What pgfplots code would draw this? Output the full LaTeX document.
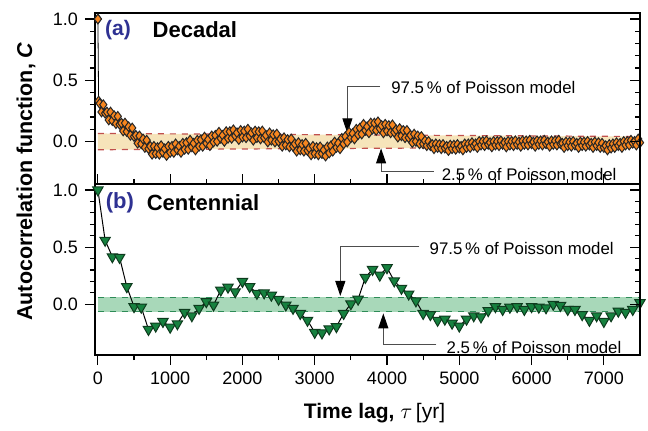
\documentclass[border=0pt]{standalone}
\usepackage{fontspec}
\setmainfont{Liberation Sans}
\usepackage{pgfplots}
\pgfplotsset{compat=1.18}
\usetikzlibrary{arrows.meta}

\definecolor{dorange}{HTML}{F7861F}
\definecolor{dband}{HTML}{F6E4BA}
\definecolor{ddash}{HTML}{C0504D}
\definecolor{cgreen}{HTML}{16813F}
\definecolor{cedge}{HTML}{0E3B1E}
\definecolor{cband}{HTML}{A8D8B9}
\definecolor{cdash}{HTML}{2E8B57}
\definecolor{lblue}{HTML}{2E3192}
\definecolor{annot}{HTML}{4D4D4D}

\tikzset{
  note/.style={font=\fontsize{8.4}{10}\selectfont, anchor=west, inner sep=0pt},
  pointer/.style={draw=annot, line width=0.5pt, -{Triangle[width=5pt,length=7.5pt,color=black]}},
}
\pgfplotsset{
  panel/.style={
    scale only axis, width=272.5pt, height=85.5pt,
    xmin=-40, xmax=7500, clip=false,
    axis line style={line width=0.6pt},
    tick style={black, line width=0.6pt},
    major tick length=5pt, minor tick length=2.5pt,
    ytick={0,0.5,1}, minor y tick num=4,
    /pgf/number format/assume math mode=true,
    y tick label style={/pgf/number format/fixed, /pgf/number format/fixed zerofill,
      /pgf/number format/precision=1},
    tick label style={font=\fontsize{9}{10}\selectfont},
  },
  rightticks/.style={
    scale only axis, width=272.5pt, height=85.5pt,
    xmin=-40, xmax=7500,
    axis x line=none, axis y line*=right,
    axis line style={line width=0.6pt},
    tick style={black, line width=0.6pt},
    major tick length=5pt, minor tick length=2.5pt,
    tick align=inside,
    ytick={0,0.5,1}, minor y tick num=4, yticklabels={},
  },
}

% decadal ACF, read every 25 yr
\pgfplotstableread{
tau C
0 1.00
10 0.33
25 0.31
50 0.24
75 0.30
100 0.23
125 0.24
150 0.175
175 0.24
200 0.17
225 0.21
250 0.145
275 0.205
300 0.14
325 0.15
350 0.085
375 0.15
400 0.08
425 0.12
450 0.05
475 0.11
500 0.04
525 0.05
550 -0.015
575 0.045
600 -0.02
625 0.02
650 -0.05
675 0.01
700 -0.06
725 -0.04
750 -0.105
775 -0.04
800 -0.10
825 -0.05
850 -0.105
875 -0.035
900 -0.09
925 -0.06
950 -0.115
975 -0.04
1000 -0.09
1025 -0.04
1050 -0.09
1075 -0.02
1100 -0.07
1125 -0.04
1150 -0.09
1175 -0.015
1200 -0.065
1225 -0.01
1250 -0.065
1275 0.01
1300 -0.045
1325 -0.015
1350 -0.07
1375 0.01
1400 -0.04
1425 0.015
1450 -0.04
1475 0.035
1500 -0.015
1525 0.015
1550 -0.035
1575 0.045
1600 -0.005
1625 0.05
1650 0.0
1675 0.075
1700 0.025
1725 0.05
1750 0.0
1775 0.08
1800 0.025
1825 0.08
1850 0.025
1875 0.095
1900 0.045
1925 0.07
1950 0.015
1975 0.09
2000 0.035
2025 0.085
2050 0.03
2075 0.10
2100 0.045
2125 0.07
2150 0.01
2175 0.085
2200 0.03
2225 0.08
2250 0.02
2275 0.085
2300 0.03
2325 0.05
2350 -0.005
2375 0.07
2400 0.01
2425 0.055
2450 -0.005
2475 0.06
2500 0.0
2525 0.02
2550 -0.04
2575 0.03
2600 -0.03
2625 0.015
2650 -0.045
2675 0.02
2700 -0.04
2725 -0.02
2750 -0.08
2775 -0.01
2800 -0.07
2825 -0.025
2850 -0.08
2875 -0.015
2900 -0.075
2925 -0.055
2950 -0.11
2975 -0.04
3000 -0.10
3025 -0.05
3050 -0.11
3075 -0.045
3100 -0.10
3125 -0.07
3150 -0.12
3175 -0.045
3200 -0.095
3225 -0.035
3250 -0.08
3275 -0.005
3300 -0.05
3325 -0.015
3350 -0.06
3375 0.025
3400 -0.02
3425 0.04
3450 -0.005
3475 0.075
3500 0.03
3525 0.065
3550 0.02
3575 0.10
3600 0.055
3625 0.11
3650 0.06
3675 0.14
3700 0.09
3725 0.12
3750 0.07
3775 0.15
3800 0.10
3825 0.15
3850 0.09
3875 0.16
3900 0.105
3925 0.13
3950 0.07
3975 0.14
4000 0.085
4025 0.13
4050 0.07
4075 0.135
4100 0.075
4125 0.095
4150 0.035
4175 0.105
4200 0.045
4225 0.09
4250 0.03
4275 0.09
4300 0.03
4325 0.05
4350 -0.01
4375 0.06
4400 0.0
4425 0.045
4450 -0.02
4475 0.04
4500 -0.02
4525 0.005
4550 -0.035
4575 0.0
4600 -0.035
4625 -0.025
4650 -0.06
4675 -0.02
4700 -0.05
4725 -0.025
4750 -0.06
4775 -0.025
4800 -0.055
4825 -0.04
4850 -0.075
4875 -0.03
4900 -0.06
4925 -0.03
4950 -0.065
4975 -0.025
5000 -0.055
5025 -0.04
5050 -0.07
5075 -0.02
5100 -0.05
5125 -0.02
5150 -0.05
5175 -0.01
5200 -0.035
5225 -0.02
5250 -0.05
5275 0.0
5300 -0.03
5325 0.0
5350 -0.035
5375 0.005
5400 -0.025
5425 -0.01
5450 -0.045
5475 0.0
5500 -0.03
5525 0.0
5550 -0.035
5575 0.005
5600 -0.025
5625 -0.01
5650 -0.045
5675 0.0
5700 -0.03
5725 0.0
5750 -0.035
5775 0.005
5800 -0.025
5825 -0.005
5850 -0.04
5875 0.005
5900 -0.025
5925 0.005
5950 -0.03
5975 0.01
6000 -0.02
6025 -0.005
6050 -0.04
6075 0.005
6100 -0.025
6125 0.005
6150 -0.03
6175 0.01
6200 -0.02
6225 -0.005
6250 -0.04
6275 0.005
6300 -0.025
6325 0.005
6350 -0.03
6375 0.01
6400 -0.02
6425 -0.015
6450 -0.05
6475 -0.005
6500 -0.035
6525 -0.005
6550 -0.04
6575 0.0
6600 -0.03
6625 -0.015
6650 -0.05
6675 -0.005
6700 -0.035
6725 -0.005
6750 -0.04
6775 0.0
6800 -0.03
6825 -0.015
6850 -0.05
6875 -0.005
6900 -0.035
6925 -0.01
6950 -0.05
6975 -0.015
7000 -0.05
7025 -0.035
7050 -0.07
7075 -0.025
7100 -0.055
7125 -0.02
7150 -0.05
7175 -0.01
7200 -0.035
7225 -0.015
7250 -0.05
7275 0.0
7300 -0.03
7325 0.0
7350 -0.03
7375 0.01
7400 -0.015
7425 0.0
7450 -0.03
7475 0.02
7500 -0.01
}\decadal

% centennial ACF, every 100 yr
\pgfplotstableread{
tau C
0 1.0
100 0.56
200 0.416
300 0.41
400 0.154
500 -0.02
600 -0.025
700 -0.22
800 -0.19
900 -0.15
1000 -0.2
1100 -0.17
1200 -0.07
1300 -0.10
1400 -0.035
1500 0.023
1600 -0.006
1700 0.125
1800 0.15
1900 0.11
2000 0.2
2100 0.155
2200 0.096
2300 0.1
2400 0.08
2500 0.044
2600 -0.006
2700 -0.035
2800 -0.08
2900 -0.14
3000 -0.245
3100 -0.25
3200 -0.215
3300 -0.195
3400 -0.08
3500 0.005
3600 0.045
3700 0.235
3800 0.305
3900 0.255
4000 0.32
4100 0.205
4200 0.14
4300 0.09
4400 0.03
4500 -0.08
4600 -0.09
4700 -0.14
4800 -0.13
4900 -0.165
5000 -0.19
5100 -0.13
5200 -0.10
5300 -0.11
5400 -0.055
5500 -0.02
5600 -0.045
5700 -0.025
5800 -0.02
5900 -0.045
6000 -0.02
6100 -0.025
6200 -0.03
6300 0.0
6400 -0.01
6500 -0.045
6600 -0.045
6700 -0.09
6800 -0.14
6900 -0.10
7000 -0.15
7100 -0.10
7200 -0.06
7300 -0.07
7400 -0.045
7500 0.015
}\centennial

\begin{document}
\begin{tikzpicture}
\useasboundingbox (-47.5pt,-37.5pt) rectangle (276.5pt,177.5pt);

% (b) centennial
\begin{axis}[panel, ymin=-0.443, ymax=1.052,
  tick align=outside, xtick pos=both, ytick pos=left,
  xtick={0,1000,...,7000}, minor x tick num=1,
  x tick label style={/pgf/number format/set thousands separator={}},
]
\addplot[fill=cband, draw=none] coordinates {(0,0.06) (7500,0.06) (7500,-0.065) (0,-0.065)} --cycle;
\addplot[cdash, dashed, line width=0.6pt] coordinates {(0,0.06) (7500,0.06)};
\addplot[cdash, dashed, line width=0.6pt] coordinates {(0,-0.065) (7500,-0.065)};
\addplot[black, line width=0.5pt, mark=triangle*, mark size=3pt,
  mark options={rotate=180, fill=cgreen, draw=cedge, line width=0.5pt, solid}]
  table[x=tau, y=C] {\centennial};
\node[anchor=west, inner sep=0pt, font=\fontsize{11}{12}\selectfont\bfseries, text=lblue] at (axis cs:104,0.886) {(b)};
\node[anchor=west, inner sep=0pt, font=\fontsize{11}{12}\selectfont\bfseries] at (axis cs:671,0.886) {Centennial};
\draw[pointer] (axis cs:4447,0.51) -- (axis cs:3354,0.51) -- (axis cs:3354,0.073);
\node[note] at (axis cs:4585,0.49) {97.5\,\% of Poisson model};
\draw[pointer] (axis cs:4682,-0.347) -- (axis cs:3949,-0.347) -- (axis cs:3949,-0.079);
\node[note] at (axis cs:4820,-0.38) {2.5\,\% of Poisson model};
\end{axis}
\begin{axis}[rightticks, ymin=-0.443, ymax=1.052]
\end{axis}

% (a) decadal
\begin{axis}[panel, at={(0,85.5pt)}, ymin=-0.348, ymax=1.049,
  tick align=outside, ytick pos=left, xmajorticks=false, xminorticks=false,
]
\addplot[fill=dband, draw=none] coordinates {(0,0.065) (7500,0.04) (7500,-0.045) (0,-0.068)} --cycle;
\addplot[ddash, dashed, line width=0.6pt] coordinates {(0,0.065) (7500,0.04)};
\addplot[ddash, dashed, line width=0.6pt] coordinates {(0,-0.068) (7500,-0.045)};
\addplot[black, line width=0.4pt, mark=diamond*, mark size=2.4pt,
  mark options={fill=dorange, draw=black!85, line width=0.5pt, solid}]
  table[x=tau, y=C] {\decadal};
\addplot[only marks, mark=diamond*, mark size=2.4pt,
  mark options={fill=dorange, draw=black!85, line width=0.5pt}]
  coordinates {(0,1.00)};
\node[anchor=west, inner sep=0pt, font=\fontsize{10.5}{12}\selectfont\bfseries, text=lblue] at (axis cs:96,0.91) {(a)};
\node[anchor=west, inner sep=0pt, font=\fontsize{11}{12}\selectfont\bfseries] at (axis cs:753,0.91) {Decadal};
\draw[pointer] (axis cs:3904,0.45) -- (axis cs:3452,0.45) -- (axis cs:3452,0.066);
\node[note] at (axis cs:4055,0.44) {97.5\,\% of Poisson model};
\draw[pointer] (axis cs:4644,-0.246) -- (axis cs:3918,-0.246) -- (axis cs:3918,-0.057);
\node[note] at (axis cs:4753,-0.27) {2.5\,\% of Poisson model};
\end{axis}
\begin{axis}[rightticks, at={(0,85.5pt)}, ymin=-0.348, ymax=1.049]
\end{axis}

\node[rotate=90, font=\fontsize{10.75}{12}\selectfont\bfseries] at (-34.5pt,86.75pt) {Autocorrelation function, \textit{C}};
\node[font=\fontsize{10.5}{12}\selectfont] at (139.75pt,-29pt) {\textbf{Time lag,}\ $\tau$\,[yr]};
\end{tikzpicture}
\end{document}
